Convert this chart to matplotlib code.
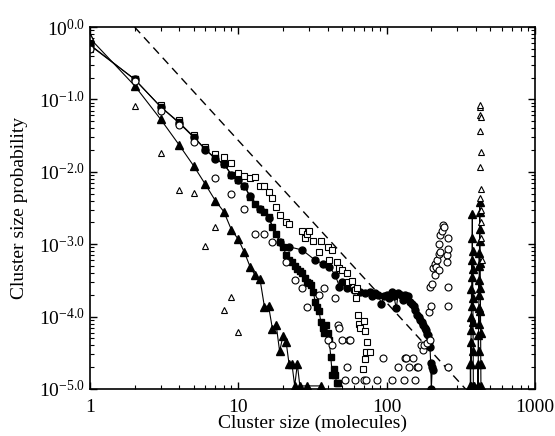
import matplotlib
matplotlib.use("Agg")
import matplotlib.pyplot as plt
from matplotlib.ticker import LogLocator, NullFormatter

# Filled triangles (with line), small sizes
tri_f_x = [1, 2, 3, 4, 5, 6, 7, 8, 9, 10, 11, 12, 13, 14, 15, 16, 17, 18, 19, 20,
           21, 22, 23, 24, 25, 26, 29, 36]
tri_f_y = [0.70, 0.155, 0.053, 0.0234, 0.0121, 0.0067, 0.0040, 0.0028, 0.00157, 0.00117,
           7.7e-4, 4.9e-4, 3.7e-4, 3.3e-4, 1.37e-4, 1.4e-4, 6.7e-5, 7.7e-5, 3.3e-5, 5.4e-5,
           4.5e-5, 2.2e-5, 2.2e-5, 1.1e-5, 2.2e-5, 1.1e-5, 1.1e-5, 1.1e-5]
# Filled triangles, peak at large sizes
tri_f_peak_x = [366, 367, 368, 369, 370, 371, 372, 373, 374, 375, 376, 377, 378, 379, 380,
                381, 382, 383, 384, 385,
                412, 413, 414, 415, 416, 417, 418, 419, 420, 421, 422, 423, 424, 425, 426,
                427, 428, 429, 430, 431, 432]
tri_f_peak_y = [1.1e-5, 2.2e-5, 1.1e-5, 4.4e-5, 2.2e-5, 1.0e-4, 6.5e-5, 2.4e-4, 1.4e-4, 6.0e-4,
                3.5e-4, 1.2e-3, 2.6e-3, 8.0e-4, 4.5e-4, 1.8e-4, 8.5e-5, 3.3e-5, 1.1e-5, 1.1e-5,
                1.1e-5, 2.2e-5, 1.1e-5, 5.5e-5, 3.3e-5, 1.3e-4, 8.0e-5, 3.2e-4, 2.0e-4, 7.5e-4,
                5.0e-4, 1.6e-3, 3.8e-3, 2.8e-3, 1.1e-3, 5.5e-4, 2.5e-4, 1.2e-4, 6.0e-5, 2.2e-5,
                1.1e-5]

# Open triangles (no line)
tri_o_x = [1, 2, 3, 4, 5, 6, 7, 8, 9, 10,
           424, 425, 426, 427, 428, 429, 430, 431, 432, 433, 434, 435, 436]
tri_o_y = [0.72, 0.081, 0.018, 0.0056, 0.0051, 9.5e-4, 1.74e-3, 1.24e-4, 1.85e-4, 6.2e-5,
           0.0043, 0.0115, 0.037, 0.079, 0.085, 0.061, 0.057, 0.019, 0.0057, 0.0030,
           0.0020, 0.0012, 6.0e-4]

# Filled squares (with line)
sq_f_x = list(range(1, 48))
sq_f_y = [0.56, 0.19, 0.079, 0.048, 0.0306, 0.0205, 0.0153, 0.0129, 0.0091, 0.0077,
          0.0064, 0.0045, 0.0036, 0.0031, 0.0028, 0.0024, 0.00175, 0.0014, 0.00108, 9.2e-4,
          7.1e-4, 6.0e-4, 5.7e-4, 5.0e-4, 4.5e-4, 4.2e-4, 4.0e-4, 3.4e-4, 3.0e-4, 2.9e-4,
          2.7e-4, 2.2e-4, 1.6e-4, 1.37e-4, 1.2e-4, 8.5e-5, 7.0e-5, 5.9e-5, 7.7e-5, 6.0e-5,
          4.75e-5, 2.8e-5, 1.56e-5, 1.9e-5, 1.56e-5, 1.2e-5, 1.2e-5]

# Open squares (no line)
sq_o_x = [1, 2, 3, 4, 5, 6, 7, 8, 9, 10, 11, 12, 13, 14, 15, 16, 17, 18, 19, 21, 22,
          27, 28, 29, 30, 32, 35, 36, 40, 41, 43, 46, 48, 50, 54, 55, 58, 61, 62, 63,
          64, 65, 66, 69, 70, 71, 72, 73, 74, 77]
sq_o_y = [0.49, 0.19, 0.085, 0.052, 0.032, 0.022, 0.0176, 0.016, 0.0133, 0.0095, 0.0088,
          0.0081, 0.0084, 0.0064, 0.0064, 0.0053, 0.0044, 0.0033, 0.0025, 0.0020, 0.0019,
          0.0015, 0.0012, 0.0014, 0.0015, 0.0011, 7.9e-4, 0.0011, 9.2e-4, 6.0e-4, 8.3e-4,
          5.7e-4, 4.7e-4, 4.4e-4, 4.0e-4, 3.0e-4, 3.1e-4, 2.3e-4, 1.8e-4, 2.5e-4,
          1.05e-4, 8.0e-5, 7.0e-5, 1.9e-5, 8.7e-5, 2.6e-5, 6.3e-5, 3.2e-5, 4.4e-5, 3.2e-5]

# Filled circles (with line)
ci_f_x = [1, 2, 3, 4, 5, 6, 7, 8, 9, 10, 11, 12, 14, 16, 19, 22, 27, 33, 37, 41, 45, 48,
          50, 54, 60, 66, 72, 77, 80, 84, 88, 92, 96, 100, 104, 108, 112, 116, 120, 124,
          128, 132, 136, 140, 144, 148, 152, 156, 160, 164, 168, 172, 176, 180, 184, 188,
          191, 194, 196, 198, 200, 203, 206]
ci_f_y = [0.57, 0.19, 0.079, 0.047, 0.0300, 0.0203, 0.0151, 0.0127, 0.0091, 0.0077,
          0.0064, 0.0046, 0.0031, 0.0023, 0.00108, 9.2e-4, 8.3e-4, 6.0e-4, 5.4e-4, 4.9e-4,
          3.76e-4, 2.6e-4, 3.0e-4, 2.46e-4, 2.33e-4, 2.2e-4, 2.1e-4, 2.2e-4, 1.9e-4, 2.1e-4,
          2.0e-4, 1.5e-4, 1.9e-4, 2.0e-4, 1.8e-4, 2.2e-4, 1.9e-4, 1.3e-4, 2.1e-4, 2.0e-4,
          1.7e-4, 2.0e-4, 1.8e-4, 1.9e-4, 1.6e-4, 1.5e-4, 1.4e-4, 1.25e-4, 1.05e-4, 1.0e-4,
          9.0e-5, 8.5e-5, 7.7e-5, 7.0e-5, 6.5e-5, 5.8e-5, 5.6e-5, 4.5e-5, 3.8e-5, 2.3e-5,
          1.0e-5, 2.0e-5, 1.8e-5]

# Open circles (no line)
ci_o_x = [1, 2, 3, 4, 5, 7, 9, 11, 13, 15, 17, 21, 24, 27, 29, 35, 38, 45, 47, 48, 40, 43,
          50, 56, 57, 54, 52, 61, 70, 73, 86, 95, 108, 120, 130, 133, 135, 142, 150, 155,
          160, 163, 170, 177, 178, 186, 193, 195, 196, 198, 202, 206, 211, 211, 215, 220,
          224, 224, 224, 230, 230, 236, 241, 243, 254, 254, 261, 261, 261, 261, 261]
ci_o_y = [0.50, 0.18, 0.07, 0.045, 0.026, 0.0081, 0.005, 0.0031, 0.0014, 0.0014, 0.00108,
          5.7e-4, 3.2e-4, 2.5e-4, 1.35e-4, 2.0e-4, 2.46e-4, 1.8e-4, 7.7e-5, 7.0e-5, 4.7e-5,
          4.0e-5, 4.7e-5, 4.7e-5, 4.7e-5, 2.0e-5, 1.33e-5, 1.33e-5, 1.33e-5, 1.33e-5,
          1.33e-5, 2.7e-5, 1.33e-5, 2.0e-5, 1.33e-5, 2.7e-5, 2.7e-5, 2.0e-5, 2.7e-5, 1.33e-5,
          2.0e-5, 2.0e-5, 4.0e-5, 3.5e-5, 4.0e-5, 4.3e-5, 1.15e-4, 4.7e-5, 2.6e-4, 1.4e-4,
          2.8e-4, 4.7e-4, 3.7e-4, 5.4e-4, 4.9e-4, 6.0e-4, 1.0e-3, 4.4e-4, 7.4e-4, 1.35e-3,
          7.9e-4, 1.5e-3, 1.84e-3, 1.7e-3, 7.1e-4, 5.7e-4, 1.2e-3, 8.7e-4, 2.6e-4, 1.4e-4,
          2.0e-5]

# Reference power law (dashed)
ref_x = [2, 340]
ref_y = [1.0, 1.0e-5]

ytick_vals = [1e0, 1e-1, 1e-2, 1e-3, 1e-4, 1e-5]
ytick_labels = [r'$10^{0.0}$', r'$10^{-1.0}$', r'$10^{-2.0}$', r'$10^{-3.0}$',
                r'$10^{-4.0}$', r'$10^{-5.0}$']
xtick_vals = [1, 10, 100, 1000]
xtick_labels = ['1', '10', '100', '1000']

plt.rcParams['font.family'] = 'Liberation Serif'
plt.rcParams['mathtext.fontset'] = 'custom'
plt.rcParams['mathtext.rm'] = 'Liberation Serif'
plt.rcParams['mathtext.it'] = 'Liberation Serif:italic'
plt.rcParams['mathtext.bf'] = 'Liberation Serif:bold'

fig = plt.figure(figsize=(5.55, 4.36), dpi=100)
ax = fig.add_axes([0.162, 0.108, 0.802, 0.830])

lw = 0.8
ax.plot(ref_x, ref_y, color='black', linestyle=(0, (6, 4)), linewidth=1.0)
ax.plot(ci_f_x, ci_f_y, color='black', linewidth=lw, marker='o', markersize=5)
ax.plot(tri_f_x, tri_f_y, color='black', linewidth=lw, marker='^', markersize=5.5)
ax.plot(tri_f_peak_x, tri_f_peak_y, color='black', linewidth=lw, marker='^', markersize=5.5)
ax.plot(sq_o_x, sq_o_y, linestyle='none', marker='s', markersize=5,
        markerfacecolor='white', markeredgecolor='black', markeredgewidth=0.8)
ax.plot(sq_f_x, sq_f_y, color='black', linewidth=lw, marker='s', markersize=4.8)
ax.plot(ci_o_x, ci_o_y, linestyle='none', marker='o', markersize=5,
        markerfacecolor='white', markeredgecolor='black', markeredgewidth=0.8)
ax.plot(tri_o_x, tri_o_y, linestyle='none', marker='^', markersize=5,
        markerfacecolor='white', markeredgecolor='black', markeredgewidth=0.8)

ax.set_xscale('log')
ax.set_yscale('log')
ax.set_xlim(1, 1000)
ax.set_ylim(1e-5, 1)

ax.set_xticks(xtick_vals)
ax.set_xticklabels(xtick_labels)
ax.set_yticks(ytick_vals)
ax.set_yticklabels(ytick_labels)
ax.xaxis.set_minor_locator(LogLocator(base=10, subs=range(2, 10), numticks=20))
ax.yaxis.set_minor_locator(LogLocator(base=10, subs=range(2, 10), numticks=20))
ax.xaxis.set_minor_formatter(NullFormatter())
ax.yaxis.set_minor_formatter(NullFormatter())
ax.tick_params(which='both', direction='in', top=True, right=True, labelsize=14)
ax.tick_params(axis='x', which='major', pad=7)
ax.tick_params(which='major', length=5, width=1)
ax.tick_params(which='minor', length=3, width=0.8)
for s in ax.spines.values():
    s.set_linewidth(1.2)

ax.set_xlabel('Cluster size (molecules)', fontsize=14, labelpad=-1)
ax.set_ylabel('Cluster size probability', fontsize=14, labelpad=8)

fig.savefig('out.png', dpi=100)
